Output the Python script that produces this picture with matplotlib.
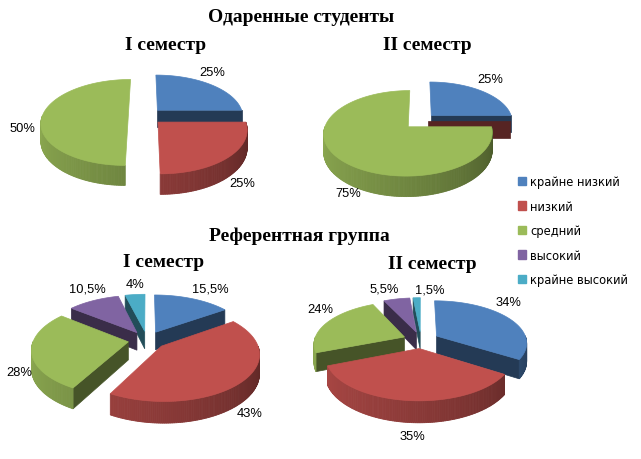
import numpy as np
import matplotlib
matplotlib.use('Agg')
import matplotlib.pyplot as plt
from matplotlib.patches import Polygon, Patch
from matplotlib.colors import to_rgb

# ---------------- data ----------------
categories = ['крайне низкий', 'низкий', 'средний', 'высокий', 'крайне высокий']
gifted_sem1 = [25, 25, 50, 0, 0]
gifted_sem2 = [25, 0, 75, 0, 0]
ref_sem1 = [15.5, 43, 28, 10.5, 4]
ref_sem2 = [34, 35, 24, 5.5, 1.5]

title_gifted = 'Одаренные студенты'
title_ref = 'Референтная группа'
sem_titles = ['I семестр', 'II семестр']

# ---------------- style / layout ----------------
colors = ['#4F81BD', '#C0504D', '#9BBB59', '#8064A2', '#4BACC6']
EXPLODE = 0.2
PERSP = 0.15
LABEL_K = 1.2

# label nudges in pixels (one per category, used only for non-zero slices)
PIES = [
    dict(values=gifted_sem1, cx=145.5, cy=117, rh=86, rv=42, t=17,
         nudge=[(-7.6, -7.8), (-3.5, 4.1), (-3.1, 12), (0, 0), (0, 0)]),
    dict(values=gifted_sem2, cx=420, cy=122, rh=81.5, rv=40, t=17,
         nudge=[(0, -7.5), (0, 0), (22.8, 11.4), (0, 0), (0, 0)]),
    dict(values=ref_sem1, cx=147, cy=341, rh=94.7, rv=45, t=18,
         nudge=[(11.2, -4.9), (-11.8, 10.1), (8.1, 15), (1.3, -6.1), (1.6, -4.3)]),
    dict(values=ref_sem2, cx=421, cy=341, rh=90, rv=41.6, t=18,
         nudge=[(-12.3, -12.5), (6, 0), (7.7, -11.1), (-9.4, -4.3), (13.9, -2.9)]),
]

fig = plt.figure(figsize=(6.41, 4.60), dpi=100)
ax = fig.add_axes([0, 0, 1, 1])
ax.set_xlim(0, 641)
ax.set_ylim(460, 0)
ax.axis('off')

def fmt(v):
    return ('%g' % v).replace('.', ',') + '%'

def draw_pie(values, cx, cy, rh, rv, t, nudge):
    total = float(sum(values))
    wedges = []
    start = 90.0
    for i, v in enumerate(values):
        span = 360.0 * v / total
        a1, a2 = start, start - span
        wedges.append((i, v, a1, a2, (a1 + a2) / 2))
        start = a2

    def P(x, y, z):
        f = 1.0 / (1.0 + PERSP * y)
        return (cx + rh * x * f, cy - rv * y * f + t * z * f)

    order = sorted(wedges, key=lambda w: -np.sin(np.radians(w[4])))
    for (i, v, a1, a2, m) in order:
        mr = np.radians(m)
        ex = EXPLODE if v > 0 else EXPLODE * 0.5
        ox, oy = ex * np.cos(mr), ex * np.sin(mr)
        base = np.array(to_rgb(colors[i]))

        def pt(th, z):
            return P(ox + np.cos(th), oy + np.sin(th), z)

        # radial walls
        for a, vis in ((a1, np.cos(np.radians(a1)) < -1e-6),
                       (a2, np.cos(np.radians(a2)) > 1e-6)):
            if vis:
                ar = np.radians(a)
                poly = [P(ox, oy, 0), pt(ar, 0), pt(ar, 1), P(ox, oy, 1)]
                c = np.clip(base * 0.45, 0, 1)
                ax.add_patch(Polygon(poly, closed=True, fc=c, ec=c, lw=0.5))
        if v == 0:
            continue
        n = max(2, int(abs(a1 - a2)) + 1)
        th = np.radians(np.linspace(a1, a2, n + 1))
        for k in range(n):
            tm = (th[k] + th[k + 1]) / 2
            if np.sin(tm) < 0:
                deg = np.degrees(tm) % 360
                u = (deg - 180) / 180.0
                s = 0.9 - 0.45 * u ** 1.3
                c = np.clip(base * s, 0, 1)
                poly = [pt(th[k], 0), pt(th[k + 1], 0), pt(th[k + 1], 1), pt(th[k], 1)]
                ax.add_patch(Polygon(poly, closed=True, fc=c, ec=c, lw=0.6))
        poly = [P(ox, oy, 0)] + [pt(a, 0) for a in th]
        ax.add_patch(Polygon(poly, closed=True, fc=base, ec=base, lw=0.5))

    for (i, v, a1, a2, m) in wedges:
        if v == 0:
            continue
        mr = np.radians(m)
        ox, oy = EXPLODE * np.cos(mr), EXPLODE * np.sin(mr)
        X, Y = P(ox + LABEL_K * np.cos(mr), oy + LABEL_K * np.sin(mr), max(0.0, -np.sin(mr)))
        dx, dy = nudge[i]
        ax.text(X + dx, Y + dy, fmt(v), ha='center', va='center', fontsize=9.3,
                family='Liberation Sans', color='black')

for pie in PIES:
    draw_pie(**pie)

tfont = dict(family='Liberation Serif', fontweight='bold', fontsize=14, ha='center', va='center')
ax.text(301, 17, title_gifted, **tfont)
ax.text(166, 45, sem_titles[0], **tfont)
ax.text(427, 45, sem_titles[1], **tfont)
ax.text(299, 236, title_ref, **tfont)
ax.text(164, 263, sem_titles[0], **tfont)
ax.text(432, 265, sem_titles[1], **tfont)

handles = [Patch(facecolor=c, edgecolor=c) for c in colors]
fig.legend(handles, categories, loc='upper left', bbox_to_anchor=(518 / 641, 1 - 176 / 460),
           frameon=False, prop=dict(family='DejaVu Sans', size=8.3), handlelength=0.72,
           handleheight=0.72, handletextpad=0.35, labelspacing=1.0, borderpad=0,
           borderaxespad=0)

fig.savefig('out.png', dpi=100)
